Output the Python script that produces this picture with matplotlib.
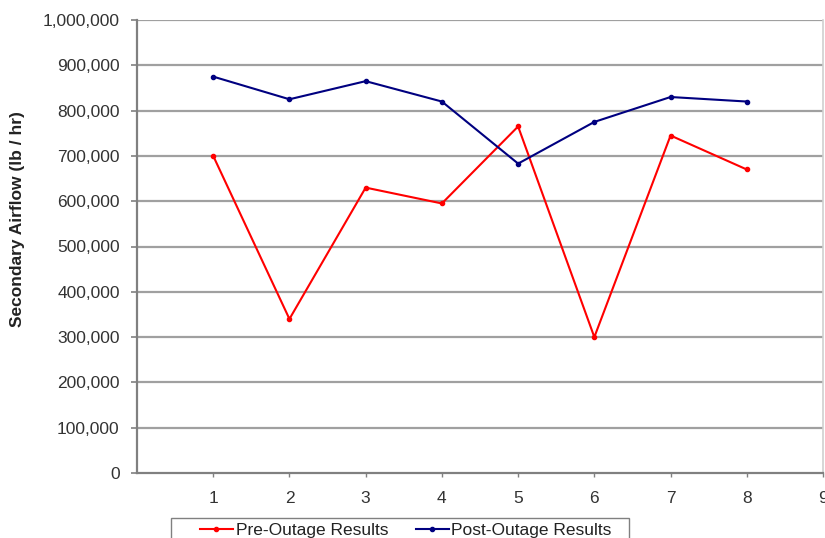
import matplotlib
matplotlib.use("Agg")
import matplotlib.pyplot as plt
from matplotlib.patches import Rectangle
from matplotlib.ticker import FuncFormatter

plt.rcParams['font.family'] = ['Liberation Sans', 'DejaVu Sans']

# Test run number and measured secondary airflow (lb/hr)
runs = [1, 2, 3, 4, 5, 6, 7, 8]
pre_outage = [700000, 340000, 630000, 595000, 765000, 300000, 745000, 670000]
post_outage = [875000, 825000, 865000, 820000, 683000, 775000, 830000, 820000]
series_names = ["Pre-Outage Results", "Post-Outage Results"]
y_label = "Secondary Airflow (lb / hr)"
x_ticks = [1, 2, 3, 4, 5, 6, 7, 8, 9]
y_ticks = list(range(0, 1000001, 100000))

W, H = 825, 538
fig = plt.figure(figsize=(W / 100, H / 100), dpi=100)
ax = fig.add_axes([137 / W, 1 - 473 / H, (823 - 137) / W, (473 - 20) / H])

ax.set_xlim(0, 9)
ax.set_ylim(0, 1000000)

grid_col = '#a0a0a0'
for yv in y_ticks[1:]:
    ax.axhline(yv, color=grid_col, lw=1.6, zorder=1)

l1, = ax.plot(runs, pre_outage, color='#ff0000', lw=1.5, marker='o', ms=3.0,
              zorder=3, label=series_names[0])
l2, = ax.plot(runs, post_outage, color='#000080', lw=1.5, marker='o', ms=3.0,
              zorder=3, label=series_names[1])

ax.spines['top'].set_visible(False)
ax.spines['right'].set_color('#d0d0d0')
ax.spines['right'].set_linewidth(1.2)
ax.spines['left'].set_color('#808080')
ax.spines['left'].set_linewidth(1.6)
ax.spines['bottom'].set_color('#808080')
ax.spines['bottom'].set_linewidth(1.6)

ax.set_yticks(y_ticks)
ax.yaxis.set_major_formatter(FuncFormatter(lambda v, p: f"{int(v):,}"))
ax.set_xticks(x_ticks)
ax.set_xticklabels([str(t) for t in x_ticks])

ax.tick_params(axis='y', direction='out', length=4.5, width=1.2, color='#808080',
               pad=8, labelsize=12.5, labelcolor='#333333')
ax.tick_params(axis='x', direction='out', length=3, width=1, color='#808080',
               pad=10, labelsize=12.5, labelcolor='#333333')

fig.text(18 / W, 1 - 219 / H, y_label, rotation=90, ha='center', va='center',
         fontsize=12.5, fontweight='bold', color='#222222')

# Legend box runs off the bottom edge of the figure
fig.patches.append(Rectangle((171 / W, 1 - 548 / H), (629 - 171) / W, 30 / H,
                             transform=fig.transFigure, facecolor='white',
                             edgecolor='#808080', lw=1.0, zorder=2))

leg = fig.legend(handles=[l1, l2], loc='center left',
                 bbox_to_anchor=(200 / W, 1 - 530 / H), ncol=2,
                 frameon=False, fontsize=12.5,
                 handlelength=1.9, handletextpad=0.15, columnspacing=1.6,
                 borderpad=0, borderaxespad=0)
leg.set_zorder(3)
for t in leg.get_texts():
    t.set_color('#222222')

fig.savefig("out.png", dpi=100)
